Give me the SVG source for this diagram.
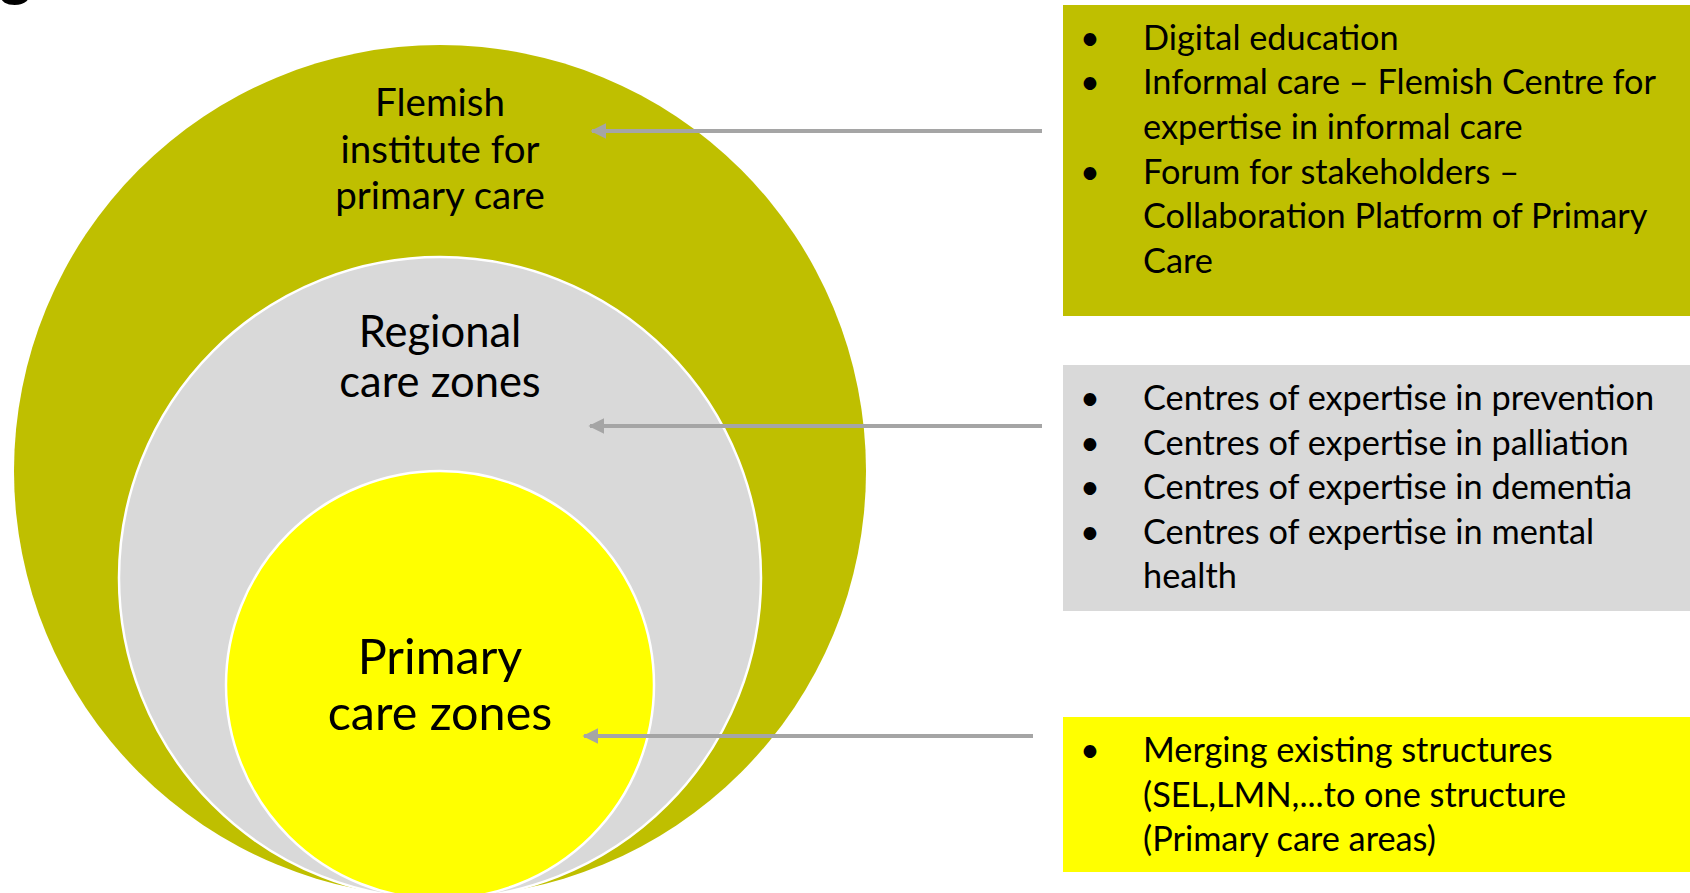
<svg xmlns="http://www.w3.org/2000/svg" width="1690" height="893" viewBox="0 0 1690 893">
  <defs>
    <style>
      .lbl { font-family: Lato, "Open Sans", "Liberation Sans", sans-serif; fill: #000; text-anchor: middle; }
      .box { font-family: Lato, "Open Sans", "Liberation Sans", sans-serif; fill: #000; font-size: 34.3px; }
      .conn { stroke: #A5A5A5; stroke-width: 4; fill: none; marker-end: url(#arrow); }
      .ring { stroke: #FFFFFF; stroke-width: 2.5; }
    </style>
    <marker id="arrow" viewBox="0 0 10 10" refX="9" refY="5" markerWidth="4" markerHeight="4.5" orient="auto" markerUnits="strokeWidth">
      <path d="M0,0 L10,5 L0,10 z" fill="#A5A5A5"/>
    </marker>
  </defs>
  <rect x="0" y="0" width="1690" height="893" fill="#FFFFFF"/>

  <text x="-4" y="-8" font-family="'Liberation Sans', sans-serif" font-weight="bold" font-size="64">g</text>

  <g id="flemish-institute">
    <circle cx="440" cy="471" r="426" fill="#BFBF00"/>
    <text class="lbl" font-size="38.5" x="440" y="116">Flemish</text>
    <text class="lbl" font-size="38.5" x="440" y="163">institute for</text>
    <text class="lbl" font-size="38.5" x="440" y="209">primary care</text>
  </g>
  <g id="regional-care-zones">
    <circle class="ring" cx="440" cy="578" r="321" fill="#D9D9D9"/>
    <text class="lbl" font-size="43.5" x="440" y="347">Regional</text>
    <text class="lbl" font-size="43.5" x="440" y="397">care zones</text>
  </g>
  <g id="primary-care-zones">
    <circle class="ring" cx="440" cy="685" r="214" fill="#FFFF00"/>
    <text class="lbl" font-size="48.5" x="440" y="674">Primary</text>
    <text class="lbl" font-size="48.5" x="440" y="730">care zones</text>
  </g>

  <g id="box-flemish">
    <rect x="1063" y="5" width="627" height="311" fill="#BFBF00"/>
    <g class="box">
      <text x="1080" y="50">•</text><text x="1143" y="50">Digital education</text>
      <text x="1080" y="94">•</text><text x="1143" y="94">Informal care – Flemish Centre for</text>
      <text x="1143" y="139">expertise in informal care</text>
      <text x="1080" y="184">•</text><text x="1143" y="184">Forum for stakeholders –</text>
      <text x="1143" y="228">Collaboration Platform of Primary</text>
      <text x="1143" y="273">Care</text>
    </g>
  </g>

  <g id="box-regional">
    <rect x="1063" y="365" width="627" height="246" fill="#D9D9D9"/>
    <g class="box">
      <text x="1080" y="410">•</text><text x="1143" y="410">Centres of expertise in prevention</text>
      <text x="1080" y="455">•</text><text x="1143" y="455">Centres of expertise in palliation</text>
      <text x="1080" y="499">•</text><text x="1143" y="499">Centres of expertise in dementia</text>
      <text x="1080" y="544">•</text><text x="1143" y="544">Centres of expertise in mental</text>
      <text x="1143" y="588">health</text>
    </g>
  </g>

  <g id="box-primary">
    <rect x="1063" y="717" width="627" height="155" fill="#FFFF00"/>
    <g class="box">
      <text x="1080" y="762">•</text><text x="1143" y="762">Merging existing structures</text>
      <text x="1143" y="807">(SEL,LMN,...to one structure</text>
      <text x="1143" y="851">(Primary care areas)</text>
    </g>
  </g>

  <g id="connectors">
    <line class="conn" x1="1042" y1="131" x2="592" y2="131"/>
    <line class="conn" x1="1042" y1="426" x2="590" y2="426"/>
    <line class="conn" x1="1033" y1="736" x2="584" y2="736"/>
  </g>
</svg>
